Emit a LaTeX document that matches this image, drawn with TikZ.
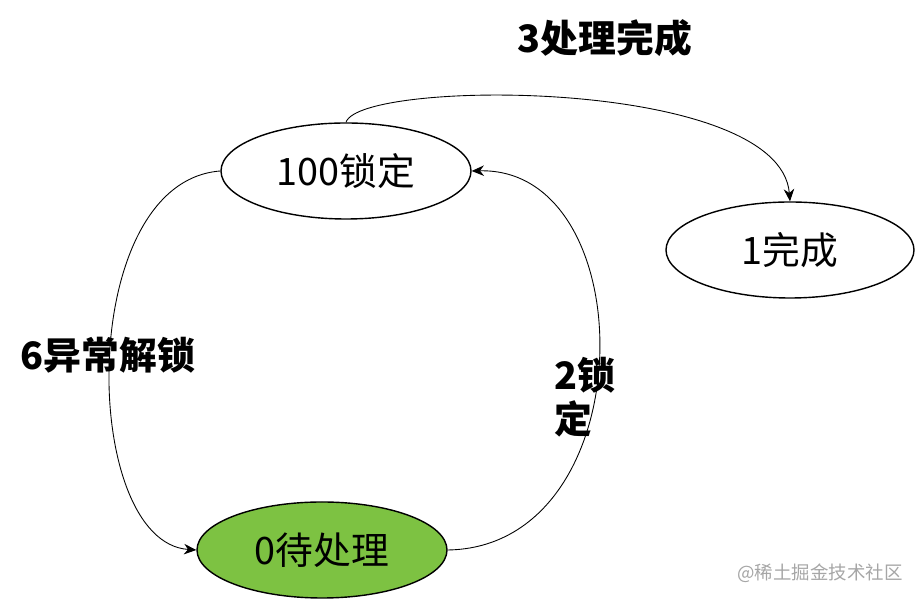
\documentclass[tikz,border=0pt]{standalone}
\usepackage{fontspec}
\setmainfont{Noto Sans CJK SC}
\usetikzlibrary{shapes.geometric,arrows.meta}
\begin{document}
\begin{tikzpicture}[
  st/.style={ellipse,draw,line width=0.8pt,minimum width=5cm,minimum height=1.92cm,inner sep=0pt,font=\fontsize{21.5}{24}\selectfont},
  lbl/.style={font=\fontsize{21.5}{25}\selectfont\bfseries},
  con/.style={-{Stealth[length=7pt,width=6pt]},line width=0.5pt}]
\useasboundingbox (0,0) rectangle (18.32,12.04);
\node[st] (a) at (6.92,8.62) {100锁定};
\node[st,minimum width=4.96cm] (b) at (15.8,7.04) {1完成};
\node[st,fill={rgb,255:red,125;green,194;blue,66}] (c) at (6.44,1.04) {0待处理};
\draw[con] (a.north) .. controls (7.2,10.46) and (15.6,10.5) .. (b.north);
\draw[con] (a.west) .. controls (1.5,8.4) and (1.6,1.2) .. (c.west);
\draw[con] (c.east) .. controls (12.9,1.1) and (12.9,8.7) .. (a.east);
\node[lbl] (l1) at (12.1,11.28) {3处理完成};
\node[lbl] (l2) at (2.16,4.94) {6异常解锁};
\node[lbl,align=left] (l3) at (11.7,4.1) {2锁\\定};
\node[text=gray!70,font=\fontsize{10.5}{12}\selectfont] (w) at (16.4,0.58) {@稀土掘金技术社区};
\end{tikzpicture}
\end{document}
